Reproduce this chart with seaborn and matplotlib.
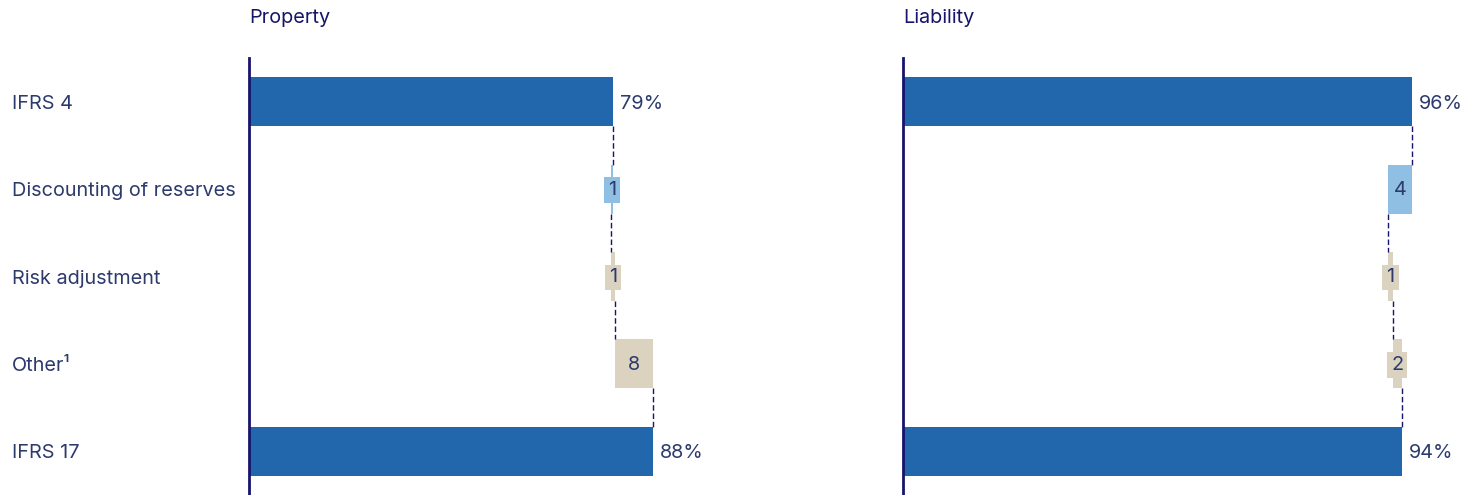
import matplotlib
matplotlib.use("Agg")
import matplotlib.pyplot as plt
import seaborn as sns
import pandas as pd
import numpy as np

categories = ["IFRS 4", "Discounting of reserves", "Risk adjustment", "Other¹", "IFRS 17"]
kinds = ["total", "change", "change", "change", "total"]
property_values = [79.1, -0.55, 0.95, 8.2, 87.7]
liability_values = [96.0, -4.45, 0.8, 1.7, 94.1]
property_labels = ["79%", "1", "1", "8", "88%"]
liability_labels = ["96%", "4", "1", "2", "94%"]
panel_titles = ["Property", "Liability"]

sns.set_theme(style="white")
plt.rcParams["font.family"] = ["Inter", "DejaVu Sans"]

C_TOTAL = "#2266ac"
C_DISC = "#8fbfe3"
C_BEIGE = "#dbd3c0"
change_colors = [None, C_DISC, C_BEIGE, C_BEIGE, None]
TXT = "#2d3a6c"
NAVY = "#17146a"
FS = 14.3

W, H = 1465, 495
fig = plt.figure(figsize=(W / 100, H / 100), dpi=100)
ax1 = fig.add_axes([249 / W, 0, 488 / W, 437 / H])
ax2 = fig.add_axes([903 / W, 0, 562 / W, 437 / H])

bar_h = 0.56

for ax, vals, labs, title, show_y in [
    (ax1, property_values, property_labels, panel_titles[0], True),
    (ax2, liability_values, liability_labels, panel_titles[1], False),
]:
    totals = [v if k == "total" else 0 for v, k in zip(vals, kinds)]
    df = pd.DataFrame({"category": categories, "value": totals})
    sns.barplot(data=df, x="value", y="category", orient="h", color=C_TOTAL,
                saturation=1, width=bar_h, ax=ax, linewidth=0)

    cum = vals[0]
    ends = [cum]
    for i in range(1, 4):
        ax.barh(i, vals[i], left=cum, height=bar_h, color=change_colors[i], linewidth=0)
        mid = cum + vals[i] / 2
        ax.annotate(labs[i], xy=(mid, i), xytext=(0, -1), textcoords="offset pixels",
                    ha="center", va="center", fontsize=FS, color=TXT,
                    bbox=dict(boxstyle="square,pad=0.2", facecolor=change_colors[i],
                              edgecolor="none"))
        cum += vals[i]
        ends.append(cum)

    for i in range(4):
        x = ends[i]
        ax.plot([x, x], [i + bar_h / 2, i + 1 - bar_h / 2], color=NAVY,
                linewidth=1, linestyle=(0, (4, 2)))

    for i in (0, 4):
        ax.annotate(labs[i], xy=(vals[i], i), xytext=(7, -2), textcoords="offset pixels",
                    ha="left", va="center", fontsize=FS, color=TXT)

    ax.set_xlim(0, 106)
    ax.set_ylim(4.5, -0.5)
    ax.set_xlabel("")
    ax.set_ylabel("")
    ax.set_xticks([])
    for s in ["top", "right", "bottom"]:
        ax.spines[s].set_visible(False)
    ax.spines["left"].set_color(NAVY)
    ax.spines["left"].set_linewidth(2)
    ax.tick_params(axis="y", length=0)
    if show_y:
        ax.tick_params(axis="y", pad=171, labelsize=FS, labelcolor=TXT)
        for t in ax.get_yticklabels():
            t.set_horizontalalignment("left")
    else:
        ax.set_yticklabels([])
    ax.text(0.0, 1.0 + 40 / 437, title, transform=ax.transAxes, ha="left",
            va="center", fontsize=FS, color=NAVY)
    ax.patch.set_alpha(0)

fig.savefig("out.png", dpi=100)
